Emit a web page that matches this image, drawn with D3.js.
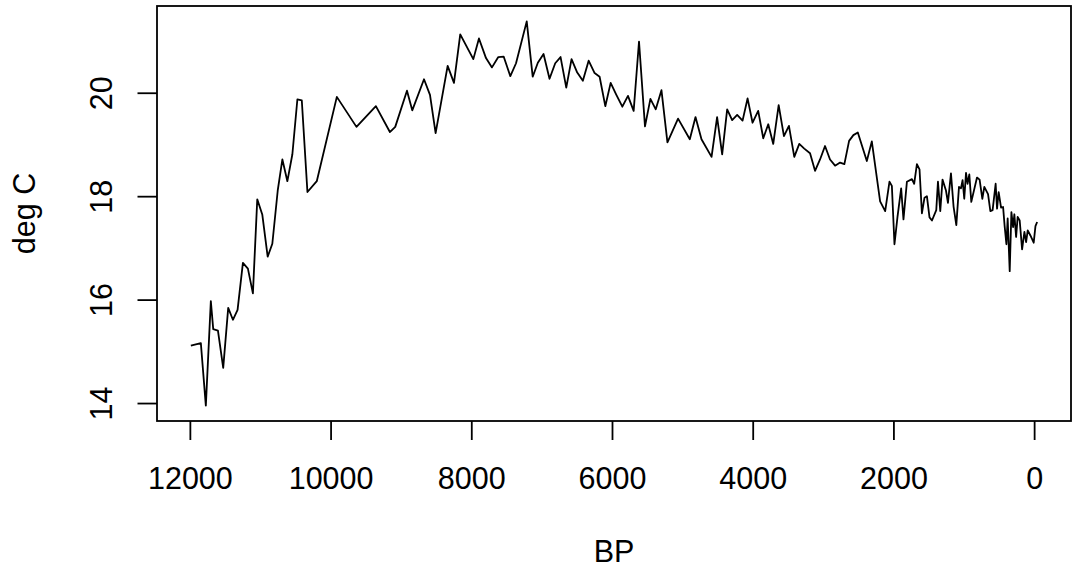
<!DOCTYPE html>
<html><head><meta charset="utf-8">
<script src="https://cdn.jsdelivr.net/npm/d3@7"></script>
<style>html,body{margin:0;padding:0;background:#fff;}svg{display:block;}</style>
</head><body>
<script>
// Years before present (BP)
const bp = [11986,11844,11773,11702,11668,11601,11526,11455,11388,11322,11246,11175,11104,11042,10970,10894,10828,10751,10685,10614,10543,10472,10409,10329,10196,9911,
9632,9356,9157,9081,8914,8839,8672,8587,8507,8336,8246,8157,7971,7891,7791,7706,7616,7540,7445,7364,7212,7127,
7054,6973,6888,6807,6731,6650,6575,6494,6414,6332,6247,6176,6095,6019,5938,5853,5773,5692,5616,5531,5454,5378,5297,5212,5061,4894,4813,4728,4585,4506,
4434,4363,4292,4221,4144,4073,4002,3922,3850,3779,3708,3631,3556,3485,3409,3338,3267,3185,3114,3043,2972,2901,2829,2758,2697,2630,2569,2506,2378,2307,2189,
2117,2056,2022,1985,1942,1890,1857,1808,1737,1705,1666,1629,1595,1558,1524,1487,1452,1391,1367,1334,1302,1253,1225,1182,1145,1106,1068,1040,1017,993,968,946,921,893,
812,775,736,708,655,622,590,547,527,504,470,441,419,394,376,347,323,299,281,256,234,205,171,138,114,91,53,6,-19,-43];
// Temperature (deg C)
const degC = [15.11,15.16,13.95,15.97,15.43,15.40,14.68,15.84,15.61,15.80,16.71,16.60,16.12,17.94,17.64,16.83,17.08,18.11,18.71,18.29,18.81,19.87,19.85,18.08,18.29,19.92,
19.34,19.74,19.24,19.34,20.04,19.66,20.26,19.96,19.22,20.52,20.19,21.13,20.65,21.05,20.67,20.49,20.69,20.70,20.32,20.57,21.38,20.31,
20.58,20.75,20.27,20.57,20.69,20.10,20.65,20.39,20.23,20.62,20.38,20.31,19.74,20.19,19.96,19.73,19.94,19.65,20.99,19.35,19.88,19.68,20.05,19.04,19.50,19.10,19.53,19.10,18.76,19.53,
18.81,19.68,19.47,19.57,19.46,19.89,19.42,19.65,19.12,19.39,19.01,19.76,19.16,19.36,18.76,19.01,18.92,18.83,18.49,18.71,18.97,18.71,18.59,18.65,18.62,19.07,19.18,19.23,18.68,19.06,17.90,
17.71,18.28,18.20,17.07,17.60,18.15,17.55,18.28,18.33,18.24,18.62,18.52,17.67,17.97,18.00,17.59,17.53,17.73,18.28,17.71,18.32,18.11,17.87,18.44,17.80,17.44,18.18,18.15,18.31,17.95,18.45,18.24,18.42,17.89,
18.36,18.32,17.95,18.18,18.04,17.71,17.73,18.24,17.76,18.08,17.78,17.79,17.42,17.07,17.57,16.55,17.69,17.40,17.65,17.21,17.60,17.53,16.97,17.31,17.11,17.34,17.24,17.10,17.42,17.50];
const xTicks = [12000,10000,8000,6000,4000,2000,0];
const yTicks = [14,16,18,20];
const xLabel = "BP", yLabel = "deg C";

const W = 1072, H = 569;
const L = 157, R = 1071, T = 6, B = 421;
const svg = d3.select("body").append("svg").attr("width", W).attr("height", H);

// R-style 4% padding around data extent
function pad(ext){ const d = (ext[1]-ext[0])*0.04; return [ext[0]-d, ext[1]+d]; }
const xe = pad(d3.extent(bp)), ye = pad(d3.extent(degC));
const x = d3.scaleLinear().domain([xe[1], xe[0]]).range([L, R]);
const y = d3.scaleLinear().domain(ye).range([B, T]);

const font = "'Liberation Sans', Arial, Helvetica, sans-serif";
const lw = 1.8;

const line = d3.line().x((d,i)=>x(bp[i])).y((d,i)=>y(degC[i]));
svg.append("path").datum(degC).attr("d", line)
  .attr("fill","none").attr("stroke","#000").attr("stroke-width",lw).attr("stroke-linejoin","round");

svg.append("rect").attr("x",L).attr("y",T).attr("width",R-L).attr("height",B-T)
  .attr("fill","none").attr("stroke","#000").attr("stroke-width",lw);

// x axis
const xa = svg.append("g").attr("transform",`translate(0,${B})`)
  .call(d3.axisBottom(x).tickValues(xTicks).tickSize(19).tickPadding(27).tickFormat(d3.format("d")));
xa.select(".domain").remove();
xa.selectAll("line").attr("stroke-width",lw);
xa.selectAll("text").attr("font-family",font).attr("font-size",30.5).attr("fill","#000");

// y axis
const ya = svg.append("g").attr("transform",`translate(${L},0)`)
  .call(d3.axisLeft(y).tickValues(yTicks).tickSize(19.5).tickFormat(d3.format("d")));
ya.select(".domain").remove();
ya.selectAll("line").attr("stroke-width",lw);
ya.selectAll("text").attr("font-family",font).attr("font-size",30.5).attr("fill","#000")
  .attr("x",null).attr("dy",null).attr("text-anchor","middle")
  .attr("transform","translate(-45.5,0) rotate(-90)");

svg.append("text").attr("x",(L+R)/2).attr("y",562).attr("text-anchor","middle")
  .attr("font-family",font).attr("font-size",30.5).text(xLabel);
svg.append("text").attr("transform",`translate(35,${(T+B)/2}) rotate(-90)`).attr("text-anchor","middle")
  .attr("font-family",font).attr("font-size",30.5).text(yLabel);
</script>
</body></html>
